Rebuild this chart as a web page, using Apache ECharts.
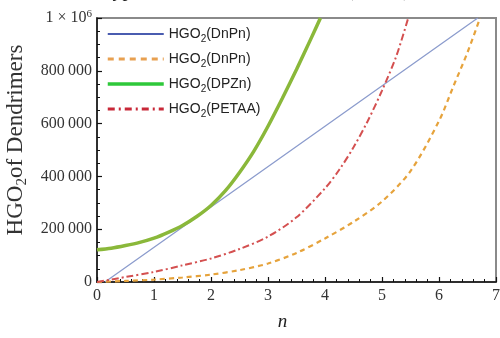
<!DOCTYPE html>
<html>
<head>
<meta charset="utf-8">
<style>
  html, body { margin: 0; padding: 0; background: #ffffff; }
  #chart { width: 500px; height: 338px; }
</style>
<script src="https://cdn.jsdelivr.net/npm/echarts@6/dist/echarts.min.js"></script>
</head>
<body>
<div id="chart"></div>
<script>
// values
const blueN = [0.14, 2, 4, 6.68];
const blueV = [0, 284000, 590000, 1000000];

const orangeN = [0, 0.5, 1, 1.5, 2, 2.5, 3, 3.5, 4, 4.5, 5, 5.5, 6, 6.25, 6.5, 6.72];
const orangeV = [0, 4000, 9000, 17000, 28000, 45000, 70000, 110000, 165000, 228000, 305000, 420000, 610000, 740000, 870000, 1000000];

const greenN = [0, 0.25, 0.5, 0.75, 1, 1.25, 1.5, 1.75, 2, 2.25, 2.5, 2.75, 3, 3.25, 3.5, 3.75, 3.92];
const greenV = [122000, 128000, 138000, 150000, 166000, 188000, 214000, 248000, 290000, 345000, 415000, 495000, 590000, 695000, 805000, 920000, 1000000];

const redN = [0, 0.5, 1, 1.5, 2, 2.5, 3, 3.5, 4, 4.25, 4.5, 4.75, 5, 5.25, 5.46];
const redV = [0, 19000, 38000, 63000, 89000, 125000, 172000, 245000, 355000, 425000, 510000, 610000, 725000, 855000, 1000000];

const seriesIds = ['s1', 's2', 's3', 's4'];
const legendLabels = ['HGO{s|2}(DnPn)', 'HGO{s|2}(DnPn)', 'HGO{s|2}(DPZn)', 'HGO{s|2}(PETAA)'];
const yAxisTitle = 'HGO{s|2}of Dendrimers';
const xAxisTitle = 'n';
const topTitle = 'Hyper Harmonic Index Values (HGO{s|2})';

const SERIF = '"Liberation Serif", "DejaVu Serif", serif';
const SANS = '"Liberation Sans", Arial, sans-serif';

function pairs(xs, ys) { return xs.map((x, i) => [x, ys[i]]); }

function yLabel(v) {
  if (v === 1000000) return '1 \u00d7 10{sup|6}';
  if (v === 0) return '0';
  const s = String(v);
  return s.slice(0, s.length - 3) + '\u2009' + s.slice(-3);
}

function mkLine(id, xs, ys, color, width, type, smooth) {
  return {
    type: 'line', name: id, data: pairs(xs, ys),
    smooth: smooth, symbol: 'none',
    lineStyle: { color: color, width: width, type: type },
    itemStyle: { color: color },
    emphasis: { disabled: true }, animation: false, clip: true
  };
}

const chart = echarts.init(document.getElementById('chart'), null, { renderer: 'canvas' });
chart.setOption({
  backgroundColor: '#ffffff',
  animation: false,
  grid: {
    left: 97, right: 4, top: 18, bottom: 56,
    outerBoundsMode: 'none', containLabel: false,
    show: true, borderColor: '#8a8a8a', borderWidth: 2, backgroundColor: '#ffffff'
  },
  graphic: [{
    type: 'text', x: 98, y: -19, silent: true,
    style: {
      text: topTitle, font: '20px ' + SERIF, fill: '#222',
      rich: { s: { fontSize: 13, fontFamily: SERIF, lineHeight: 13, padding: [10, 0, 0, 0] } }
    }
  }],
  legend: {
    orient: 'vertical', left: 106, top: 24, padding: 0,
    itemWidth: 56, itemHeight: 14, itemGap: 5,
    selectedMode: false,
    formatter: name => legendLabels[seriesIds.indexOf(name)],
    itemStyle: { opacity: 0 },
    textStyle: {
      fontFamily: SANS, fontSize: 14, color: '#222',
      rich: { s: { fontFamily: SANS, fontSize: 10, lineHeight: 10, padding: [10, 0, 0, 0] } }
    },
    data: [
      { name: 's1', itemStyle: { opacity: 0 }, lineStyle: { color: '#4a5cb0', width: 2 } },
      { name: 's2', itemStyle: { opacity: 0 }, lineStyle: { color: '#e8a050', width: 3, type: [6, 5] } },
      { name: 's3', itemStyle: { opacity: 0 }, lineStyle: { color: '#2ec83a', width: 3.5 } },
      { name: 's4', itemStyle: { opacity: 0 }, lineStyle: { color: '#c82838', width: 3, type: [7, 4, 2, 4] } }
    ]
  },
  xAxis: {
    type: 'value', min: 0, max: 7, interval: 1,
    name: xAxisTitle, nameLocation: 'middle', nameGap: 30,
    nameTextStyle: { fontFamily: SERIF, fontStyle: 'italic', fontSize: 19, color: '#222', padding: [0, 28, 0, 0] },
    axisLine: { show: true, onZero: false, lineStyle: { color: '#111', width: 1.5 } },
    axisTick: { show: true, inside: true, length: 5, lineStyle: { color: '#111', width: 1.2 } },
    minorTick: { show: true, splitNumber: 5, length: 3, lineStyle: { color: '#111', width: 1 } },
    axisLabel: { fontFamily: SERIF, fontSize: 16, color: '#333', margin: 6 },
    splitLine: { show: false }
  },
  yAxis: {
    type: 'value', min: 0, max: 1000000, interval: 200000,
    name: yAxisTitle, nameLocation: 'middle', nameGap: 57,
    nameTextStyle: {
      fontFamily: SERIF, fontSize: 23, color: '#333', padding: [0, 0, 0, 20],
      rich: { s: { fontFamily: SERIF, fontSize: 15, lineHeight: 15, padding: [12, 0, 0, 0] } }
    },
    axisLine: { show: true, onZero: false, lineStyle: { color: '#111', width: 1.5 } },
    axisTick: { show: true, inside: true, length: 5, lineStyle: { color: '#111', width: 1.2 } },
    minorTick: { show: true, splitNumber: 4, length: 3, lineStyle: { color: '#111', width: 1 } },
    axisLabel: {
      fontFamily: SERIF, fontSize: 16, color: '#333', margin: 5,
      formatter: yLabel,
      rich: { sup: { fontFamily: SERIF, fontSize: 11, lineHeight: 11, padding: [0, 0, 8, 0] } }
    },
    splitLine: { show: false }
  },
  series: [
    mkLine('s1', blueN, blueV, '#8c9ccd', 1.3, 'solid', false),
    mkLine('s2', orangeN, orangeV, '#e6a33c', 2.2, [5, 4], 0.3),
    mkLine('s3', greenN, greenV, '#8ab83a', 3.5, 'solid', 0.3),
    mkLine('s4', redN, redV, '#d45050', 2, [7, 3, 2, 3], 0.3)
  ]
});
</script>
</body>
</html>
